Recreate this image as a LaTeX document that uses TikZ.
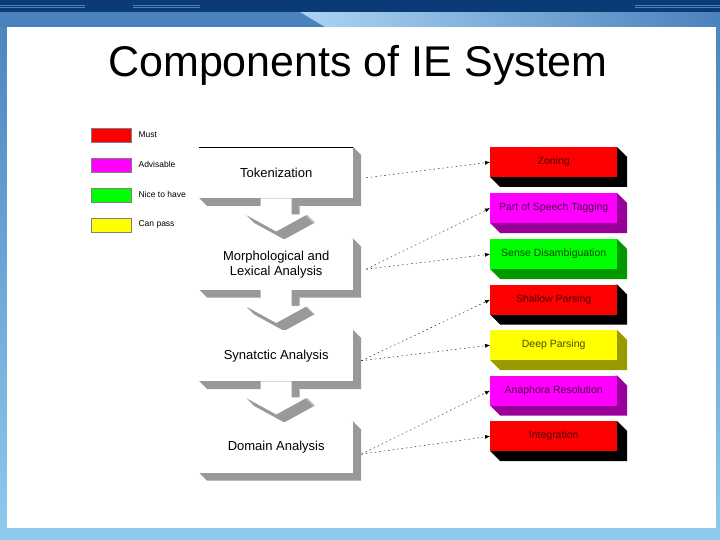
\documentclass[tikz,border=0pt]{standalone}
\usepackage{fontspec}
\setmainfont{Liberation Sans}
\usepackage{xcolor}
\usepackage{tikz}
\usetikzlibrary{arrows.meta, calc, positioning}

\definecolor{navy}{HTML}{0B3B77}
\definecolor{slideblue}{HTML}{4A82BD}
\definecolor{paleblue}{HTML}{AAD4F3}
\definecolor{skyblue}{HTML}{8FCAEE}
\definecolor{boxgray}{HTML}{999999}
\definecolor{mustred}{HTML}{FF0000}
\definecolor{advmagenta}{HTML}{FF00FF}
\definecolor{nicegreen}{HTML}{00FF00}
\definecolor{passyellow}{HTML}{FFFF00}
\definecolor{sidemagenta}{HTML}{990099}
\definecolor{sidegreen}{HTML}{009900}
\definecolor{sideyellow}{HTML}{999900}

% grey 3D box on the left: name, top left corner, text
\newcommand{\StepBox}[3]{
	\def\w{154}
	\def\h{51}
	\def\d{8}
	\fill[boxgray] ($(#2)+(\w,0)$) -- ++(\d,\d) -- ++(0,\h) -- ++(-\w,0) -- ++(-\d,-\d) -- cycle;
	\node[stepbox, anchor=north west] (#1) at (#2) {#3};
}

% coloured 3D box on the right: name, top left corner, fill, side, text
\newcommand{\TaskBox}[5]{
	\def\w{127}
	\def\h{30}
	\def\d{10}
	\fill[#4] ($(#2)+(\w,0)$) -- ++(\d,\d) -- ++(0,\h) -- ++(-\w,0) -- ++(-\d,-\d) -- cycle;
	\node[taskbox, anchor=north west, fill=#3, text=#3!30!black] (#1) at (#2) {#5};
}

% block arrow below a box
\newcommand{\DownArrow}[1]{
	\begin{scope}[shift={(#1.south)}]
		\foreach \s in {1,...,8}
			\fill[boxgray, shift={(\s,\s)}] (-15.5,0) -- (15.5,0) -- (15.5,16) -- (31,16) -- (0,33) -- (-31,16) -- (-15.5,16) -- cycle;
		\fill[white] (-15.5,0) -- (15.5,0) -- (15.5,16) -- (31,16) -- (0,33) -- (-31,16) -- (-15.5,16) -- cycle;
	\end{scope}
}

\begin{document}
\begin{tikzpicture}[x=1pt, y=-1pt,
	stepbox/.style={fill=white, minimum width=154pt, minimum height=51pt, inner sep=0pt, align=center, font=\fontsize{13}{15}\selectfont},
	taskbox/.style={minimum width=127pt, minimum height=30pt, inner sep=0pt, font=\fontsize{10.5}{12}\selectfont},
	legend/.style={draw=gray, thin, minimum width=40pt, minimum height=14pt, inner sep=0pt, anchor=north west},
	legendtext/.style={anchor=west, inner sep=0pt, font=\fontsize{8.5}{10}\selectfont},
	link/.style={thin, dash pattern=on 1.5pt off 3pt, -{Latex[length=5pt, width=4pt]}}]

	\useasboundingbox (0,0) rectangle (720,540);

	% slide frame
	\shade[top color=slideblue, bottom color=skyblue] (0,0) rectangle (720,540);
	\fill[slideblue] (0,12) rectangle (720,27);
	\shade[left color=paleblue, right color=slideblue] (300,12) -- (720,12) -- (720,27) -- (325,27) -- cycle;
	\fill[navy] (0,0) rectangle (720,12);
	\foreach \y in {5,7.5}{
		\draw[slideblue, line width=0.6pt] (0,\y) -- (85,\y);
		\draw[slideblue, line width=0.6pt] (133,\y) -- (200,\y);
		\draw[slideblue, line width=0.6pt] (635,\y) -- (720,\y);
	}
	\fill[white] (7,27) rectangle (716,528);

	\node[anchor=base, font=\fontsize{43}{48}\selectfont] (title) at (358,77) {Components of IE System};

	% legend
	\node[legend, fill=mustred] (lmust) at (91,128) {};
	\node[legend, fill=advmagenta] (ladv) at (91,158) {};
	\node[legend, fill=nicegreen] (lnice) at (91,188) {};
	\node[legend, fill=passyellow] (lpass) at (91,218) {};
	\node[legendtext] at ($(lmust.east)+(7,-1)$) {Must};
	\node[legendtext] at ($(ladv.east)+(7,-1)$) {Advisable};
	\node[legendtext] at ($(lnice.east)+(7,-1)$) {Nice to have};
	\node[legendtext] at ($(lpass.east)+(7,-1)$) {Can pass};

	% processing steps
	\StepBox{tok}{199,147}{Tokenization}
	\draw[thin] (tok.north west) -- (tok.north east);
	\DownArrow{tok}
	\StepBox{morph}{199,238.5}{Morphological and\\Lexical Analysis}
	\DownArrow{morph}
	\StepBox{syn}{199,330}{Synatctic Analysis}
	\DownArrow{syn}
	\StepBox{dom}{199,421.5}{Domain Analysis}

	% components
	\TaskBox{zon}{490,147}{mustred}{black}{Zoning}
	\TaskBox{pos}{490,193}{advmagenta}{sidemagenta}{Part of Speech Tagging}
	\TaskBox{wsd}{490,239}{nicegreen}{sidegreen}{Sense Disambiguation}
	\TaskBox{shallow}{490,284.5}{mustred}{black}{Shallow Parsing}
	\TaskBox{deep}{490,330}{passyellow}{sideyellow}{Deep Parsing}
	\TaskBox{ana}{490,375.5}{advmagenta}{sidemagenta}{Anaphora Resolution}
	\TaskBox{integ}{490,421}{mustred}{black}{Integration}

	\coordinate (tok-out) at ($(tok.east)+(13,5)$);
	\coordinate (morph-out) at ($(morph.east)+(13,5)$);
	\coordinate (syn-out) at ($(syn.east)+(8,5)$);
	\coordinate (dom-out) at ($(dom.east)+(8,7)$);

	\draw[link] (tok-out) -- (zon.west);
	\draw[link] (morph-out) -- (pos.west);
	\draw[link] (morph-out) -- (wsd.west);
	\draw[link] (syn-out) -- (shallow.west);
	\draw[link] (syn-out) -- (deep.west);
	\draw[link] (dom-out) -- (ana.west);
	\draw[link] (dom-out) -- (integ.west);

\end{tikzpicture}
\end{document}
